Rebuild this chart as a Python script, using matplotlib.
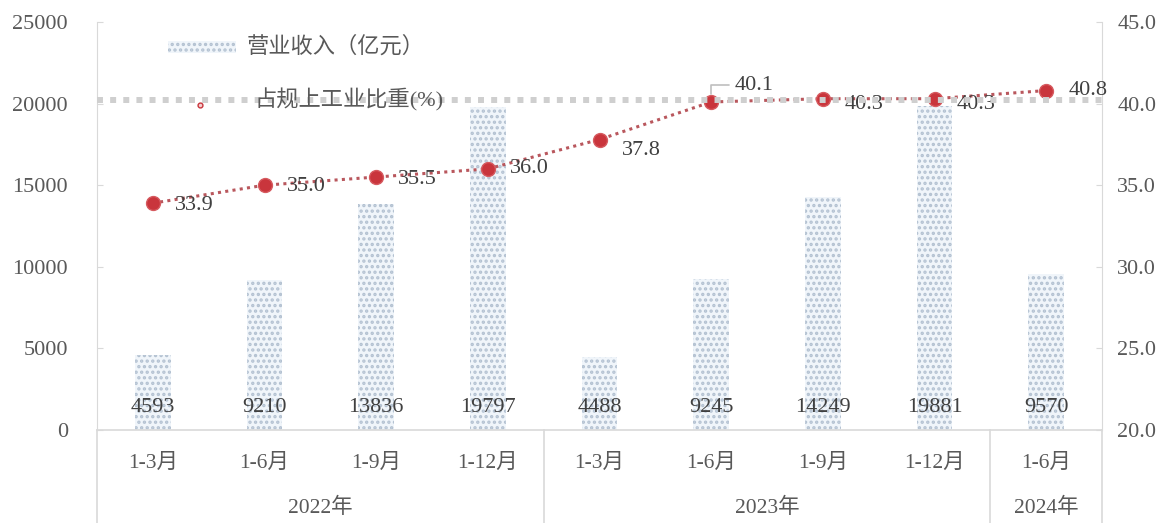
import matplotlib
matplotlib.use('Agg')
import matplotlib.pyplot as plt
import matplotlib.patches as patches
import matplotlib.transforms as transforms
from matplotlib.lines import Line2D

plt.rcParams['font.family'] = ['Liberation Serif', 'Noto Sans CJK SC', 'DejaVu Sans']
plt.rcParams['hatch.linewidth'] = 1.6

########################################################################################################################
# data
categories = ['1-3月', '1-6月', '1-9月', '1-12月', '1-3月', '1-6月', '1-9月', '1-12月', '1-6月']
years = ['2022年', '2023年', '2024年']
year_counts = [4, 4, 1]
revenue = [4593, 9210, 13836, 19797, 4488, 9245, 14249, 19881, 9570]
share = [33.9, 35.0, 35.5, 36.0, 37.8, 40.1, 40.3, 40.3, 40.8]
left_ticks = [0, 5000, 10000, 15000, 20000, 25000]
right_ticks = [20.0, 25.0, 30.0, 35.0, 40.0, 45.0]
legend_bar = '营业收入（亿元）'
legend_line = '占规上工业比重(%)'

########################################################################################################################
# colours / layout
tick_col = '#595959'
lab_col = '#404040'
axis_col = '#d9d9d9'
bar_face = '#f0f5fa'
bar_hatch = '#b3c1d1'
line_col = '#b9575d'
mark_col = '#c9353c'
fs = 16

W, H = 1172, 523
fig = plt.figure(figsize=(W / 100, H / 100), dpi=100)
ax_l, ax_r, ax_b, ax_t = 97 / W, 1102 / W, (H - 430) / H, (H - 22) / H
ax = fig.add_axes([ax_l, ax_b, ax_r - ax_l, ax_t - ax_b])
ax2 = ax.twinx()

x = list(range(len(categories)))

# bars
ax.bar(x, revenue, width=0.32, color=bar_face, edgecolor=bar_hatch, linewidth=0, hatch='...', zorder=2)
ax.set_xlim(-0.5, len(categories) - 0.5)
ax.set_ylim(0, 25000)
ax.set_yticks(left_ticks)
ax.set_yticklabels([str(v) for v in left_ticks])
ax.set_xticks([])
for i, v in enumerate(revenue):
    ax.annotate(str(v), (i, 0), xytext=(0, 16.5), textcoords='offset points',
                ha='center', va='center', fontsize=fs, color=lab_col, zorder=6)

# line
ax2.set_ylim(20, 45)
ax2.set_yticks(right_ticks)
ax2.set_yticklabels(['%.1f' % v for v in right_ticks])
ax2.plot(x, share, color=line_col, linewidth=2.2, linestyle=(0, (1, 1.4)), zorder=3)
ax2.plot(x, share, linestyle='none', marker='o', markersize=10, markerfacecolor=mark_col,
         markeredgecolor='#d65a5f', markeredgewidth=1, zorder=5)

# label offsets (points) for the share labels
lab_dy = [-2, -1, -2, 0, -8, 0, -4, -4, 0]
for i, v in enumerate(share):
    if i == 5:
        ax2.annotate('%.1f' % v, (i, v), xytext=(17, 12), textcoords='offset points',
                     ha='left', va='center', fontsize=fs, color=lab_col, zorder=6,
                     arrowprops=dict(arrowstyle='-', color='#bfbfbf', lw=1.2,
                                     connectionstyle='angle,angleA=0,angleB=90,rad=0',
                                     shrinkA=2, shrinkB=6))
    else:
        ax2.annotate('%.1f' % v, (i, v), xytext=(16, lab_dy[i]), textcoords='offset points',
                     ha='left', va='center', fontsize=fs, color=lab_col, zorder=6)

########################################################################################################################
# axes styling
for a in (ax, ax2):
    a.spines['top'].set_visible(False)
    a.spines['left'].set_color(axis_col)
    a.spines['right'].set_color(axis_col)
    a.spines['bottom'].set_color(axis_col)
    a.spines['bottom'].set_linewidth(1.2)
ax.spines['right'].set_visible(False)
ax2.spines['left'].set_visible(False)
ax2.spines['bottom'].set_visible(False)
ax.tick_params(axis='y', direction='in', length=4.5, color=axis_col, labelcolor=tick_col,
               labelsize=fs, pad=21)
ax2.tick_params(axis='y', direction='in', length=4.5, color=axis_col, labelcolor=tick_col,
                labelsize=fs, pad=11)
ax.set_zorder(1)
ax2.set_zorder(2)
ax2.patch.set_visible(False)

# category and group labels below the axis
bot = -ax_b / (ax_t - ax_b)
trans = transforms.blended_transform_factory(ax.transData, ax.transAxes)
for i, c in enumerate(categories):
    ax.text(i, -33 / (430 - 22), c, transform=trans, ha='center', va='center',
            fontsize=15.5, color=tick_col, clip_on=False)
start = 0
seps = [-0.5]
for name, n in zip(years, year_counts):
    mid = start + (n - 1) / 2.0
    ax.text(mid, -78 / (430 - 22), name, transform=trans, ha='center', va='center',
            fontsize=15.5, color=tick_col, clip_on=False)
    start += n
    seps.append(start - 0.5)
for s in seps:
    ax.add_line(Line2D([s, s], [0, bot], transform=trans, color=axis_col, lw=1.2, clip_on=False))

########################################################################################################################
# legend (drawn by hand to follow the original layout)
fig.add_artist(patches.Rectangle((168 / W, (H - 53) / H), 68 / W, 12 / H, transform=fig.transFigure,
                                 facecolor=bar_face, edgecolor=bar_hatch, linewidth=0, hatch='...',
                                 zorder=10))
fig.text(247 / W, (H - 47) / H, legend_bar, ha='left', va='center', fontsize=fs, color=tick_col, zorder=10)
ftrans = transforms.blended_transform_factory(ax.transAxes, fig.transFigure)
fig.add_artist(Line2D([0, 1], [(H - 100) / H] * 2, transform=ftrans, color='#cfcfcf', lw=4.3,
                      linestyle=(0, (1, 1.2)), solid_capstyle='butt', dash_capstyle='butt', zorder=4))
fig.add_artist(Line2D([200 / W], [(H - 105) / H], transform=fig.transFigure, marker='o', markersize=3.5,
                      markerfacecolor='#f6d0d0', markeredgecolor='#c9353c', markeredgewidth=1, zorder=5))
fig.text(255 / W, (H - 100) / H, legend_line, ha='left', va='center', fontsize=fs, color=tick_col, zorder=6)

fig.savefig('out.png', dpi=100)
